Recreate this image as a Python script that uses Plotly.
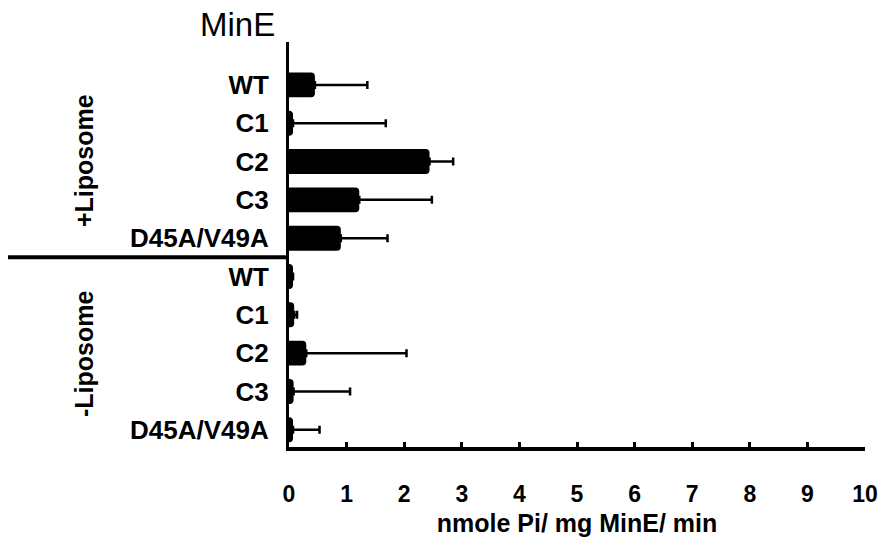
import plotly.graph_objects as go

# ---- data ----
categories = ["WT", "C1", "C2", "C3", "D45A/V49A",
              "WT", "C1", "C2", "C3", "D45A/V49A"]
plus_lipo_values = [0.45, 0.07, 2.44, 1.22, 0.90]
plus_lipo_errors = [0.91, 1.61, 0.41, 1.26, 0.81]
minus_lipo_values = [0.07, 0.09, 0.30, 0.08, 0.07]
minus_lipo_errors = [0.00, 0.05, 1.74, 0.98, 0.46]
x_ticks = list(range(0, 11))

values = plus_lipo_values + minus_lipo_values
errors = plus_lipo_errors + minus_lipo_errors
positions = list(range(len(categories)))

FONT = "Liberation Sans, Arial, sans-serif"

fig = go.Figure()
fig.add_trace(go.Bar(
    x=values, y=positions, orientation="h",
    width=0.65,
    marker=dict(color="black", line=dict(width=0)),
    error_x=dict(type="data", array=errors,
                 arrayminus=[0] * len(errors), symmetric=False,
                 color="black", thickness=2.5, width=4),
    showlegend=False,
))

W, H = 881, 546
PL, PR, PT, PB = 289, 865, 42, 447  # plot area edges in page pixels
L, T, R, B = PL, PT, W - PR, H - PB
pw, ph = PR - PL, PB - PT

def px(xp):
    return (xp - PL) / pw

def py(yp):
    return (PB - yp) / ph

fig.update_layout(
    width=W, height=H,
    margin=dict(l=L, r=R, t=T, b=B, pad=0, autoexpand=False),
    paper_bgcolor="white", plot_bgcolor="white",
    barcornerradius=4,
    font=dict(family=FONT, color="black"),
    xaxis=dict(
        range=[0, 10], tickvals=x_ticks, ticktext=[str(v) for v in x_ticks],
        showline=True, linewidth=4, linecolor="black",
        ticks="inside", ticklen=5, tickwidth=3, tickcolor="black",
        showgrid=False, zeroline=False, automargin=False,
        tickfont=dict(family=FONT, size=23, color="black", weight="bold"),
        ticklabelstandoff=23,
        title=dict(text="nmole Pi/ mg MinE/ min",
                   font=dict(family=FONT, size=25, color="black", weight="bold"),
                   standoff=10),
    ),
    yaxis=dict(
        range=[9.45, -1.12], tickvals=positions, ticktext=categories,
        showline=True, linewidth=3, linecolor="black",
        ticks="", showgrid=False, zeroline=False, automargin=False,
        tickfont=dict(family=FONT, size=26, color="black", weight="bold"),
        ticklabelstandoff=12,
    ),
    shapes=[dict(type="line", xref="paper", yref="y",
                 x0=px(8), x1=0, y0=4.5, y1=4.5,
                 line=dict(color="black", width=4))],
    annotations=[
        dict(text="MinE", xref="paper", yref="paper", x=px(237), y=py(25),
             showarrow=False, xanchor="center", yanchor="middle",
             font=dict(family=FONT, size=33, color="black")),
        dict(text="+Liposome", xref="paper", yref="paper", x=px(84), y=py(161),
             showarrow=False, textangle=-90, xanchor="center", yanchor="middle",
             font=dict(family=FONT, size=25, color="black", weight="bold")),
        dict(text="-Liposome", xref="paper", yref="paper", x=px(84), y=py(354),
             showarrow=False, textangle=-90, xanchor="center", yanchor="middle",
             font=dict(family=FONT, size=25, color="black", weight="bold")),
    ],
)

fig.write_html(
    "out.html",
    config={"displayModeBar": False},
    post_script="document.body.style.margin='0';document.body.style.overflow='hidden';",
)
